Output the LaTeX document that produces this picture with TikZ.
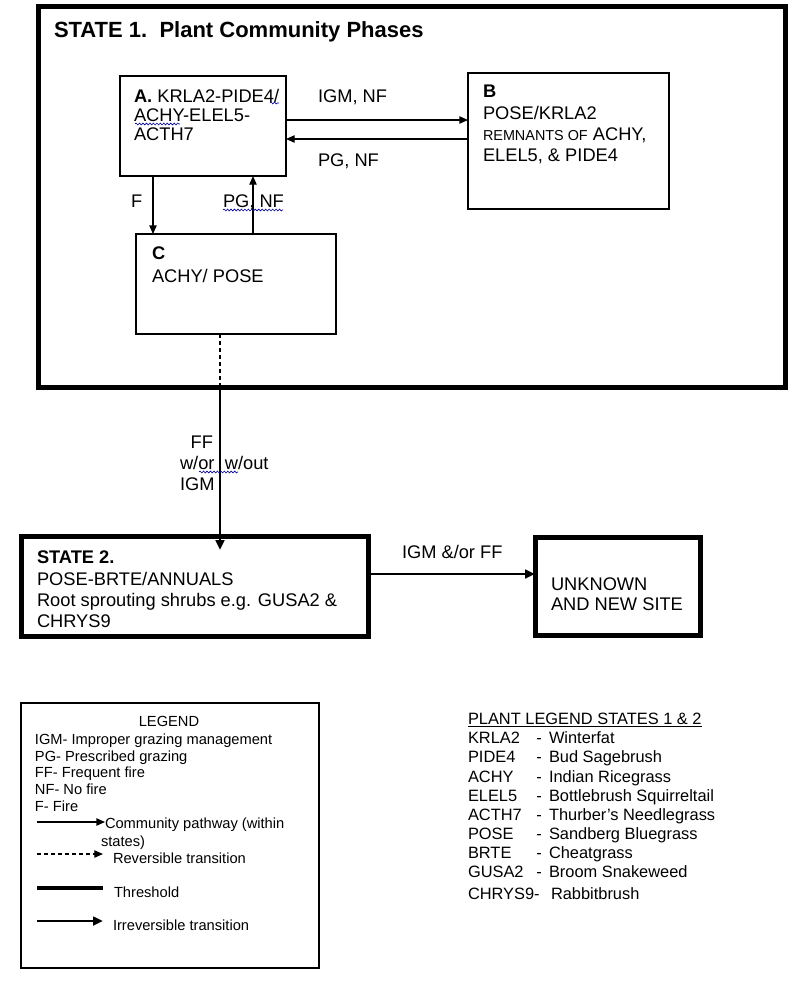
\documentclass[tikz,border=0pt]{standalone}
\usepackage{fontspec}
\setmainfont{Liberation Sans}
\usetikzlibrary{arrows.meta,decorations.pathmorphing}
\begin{document}
\begin{tikzpicture}[x=0.75pt,y=-0.75pt,
  box/.style={draw, line width=1pt, rectangle, inner sep=0pt, outer sep=0pt},
  statebox/.style={draw, line width=3.75pt, rectangle, inner sep=0pt, outer sep=0pt},
  legbox/.style={draw, line width=0.9pt, rectangle, inner sep=0pt, outer sep=0pt},
  txt/.style={inner sep=0pt, outer sep=0pt, anchor=base west, font=\fontsize{13.7}{16}\selectfont},
  legtxt/.style={inner sep=0pt, outer sep=0pt, anchor=base west, font=\fontsize{11}{13}\selectfont},
  pltxt/.style={inner sep=0pt, outer sep=0pt, anchor=base west, font=\fontsize{12.3}{14}\selectfont},
  arr/.style={line width=1pt, -{Triangle[length=6.5pt,width=5.5pt]}},
  dasharr/.style={line width=0.9pt, dash pattern=on 3pt off 2.25pt},
  thickarr/.style={line width=2.2pt, -{Triangle[length=7.5pt,width=6.5pt]}},
  thresh/.style={line width=3pt},
  squiggle/.style={draw=blue!60!black, line width=0.45pt, decorate, decoration={snake, amplitude=0.7pt, segment length=2.6pt}}
]
\useasboundingbox (0,0) rectangle (800,983);

% ---------------- State 1 ----------------
\node[statebox, minimum width=560.25pt, minimum height=285.75pt] (S1) at (411.5,196.5) {};
\node[txt, font=\bfseries\fontsize{16.5}{20}\selectfont] (title) at (54,37) {STATE 1.\ \ Plant Community Phases};

\node[box, minimum width=124.5pt, minimum height=75pt] (A) at (203,126) {};
\node[box, minimum width=150.75pt, minimum height=102pt] (B) at (568.5,141) {};
\node[box, minimum width=150pt, minimum height=75pt] (C) at (236,284) {};

\node[txt] (a1) at (134,102) {\textbf{A.} KRLA2-PIDE4/};
\node[txt] (a2) at (134,121) {ACHY-ELEL5-};
\node[txt] (a3) at (134,140) {ACTH7};

\node[txt] (b1) at (483,97) {\textbf{B}};
\node[txt] (b2) at (483,119) {POSE/KRLA2};
\node[txt] (b3) at (483,140) {{\fontsize{10.8}{12}\selectfont REMNANTS OF} ACHY,};
\node[txt] (b4) at (483,161) {ELEL5, \& PIDE4};

\node[txt] (c1) at (152,259) {\textbf{C}};
\node[txt] (c2) at (152,282) {ACHY/ POSE};

% pathway labels
\node[txt] (labAB) at (318,102) {IGM, NF};
\node[txt] (labBA) at (318,166) {PG, NF};
\node[txt] (labAC) at (131,207) {F};
\node[txt] (labCA) at (223,207) {PG, NF};

% pathway arrows
\coordinate (yab) at (0,120);
\coordinate (yba) at (0,139);
\coordinate (xac) at (153,0);
\coordinate (xca) at (253,0);
\draw[arr] (A.east |- yab) -- (B.west |- yab);
\draw[arr] (B.west |- yba) -- (A.east |- yba);
\draw[arr] (A.south -| xac) -- (C.north -| xac);
\draw[arr] (C.north -| xca) -- (A.south -| xca);

% transition from C to State 2
\coordinate (xd) at (220,0);
\coordinate (s2in) at (220,550);
\draw[dasharr] (C.south -| xd) -- (S1.south -| xd);
\draw[thickarr] (S1.south -| xd) -- (s2in);

\node[txt, anchor=base east] (ff1) at (213,448) {FF};
\node[txt] (ff2) at (180,469) {w/or\hspace{7.8pt}w/out};
\node[txt] (ff3) at (180,490) {IGM};

% ---------------- State 2 ----------------
\node[statebox, minimum width=259.9pt, minimum height=75pt] (S2) at (195.25,586.5) {};
\node[txt] (s21) at (37,563) {\textbf{STATE 2.}};
\node[txt] (s22) at (37,585) {POSE-BRTE/ANNUALS};
\node[txt] (s23) at (37,606) {Root sprouting shrubs e.g. GUSA2 \&};
\node[txt] (s24) at (37,627) {CHRYS9};

\node[statebox, minimum width=124.1pt, minimum height=73.5pt] (UN) at (617.75,586.5) {};
\node[txt] (un1) at (551,590) {UNKNOWN};
\node[txt] (un2) at (551,610) {AND NEW SITE};

\coordinate (ysu) at (0,574);
\draw[thickarr] (S2.east |- ysu) -- (UN.west |- ysu);
\node[txt] (labSU) at (402,558) {IGM \&/or FF};

% spell-check squiggles
\draw[squiggle] (270,103) -- (279,103);
\draw[squiggle] (135,124) -- (180,124);
\draw[squiggle] (223,210) -- (283,210);
\draw[squiggle] (199,472) -- (238,472);

% ---------------- Legend ----------------
\node[legbox, minimum width=223.5pt, minimum height=198.75pt] (LEG) at (170,835.5) {};
\node[legtxt, anchor=base] (lg0) at (169,726) {LEGEND};
\node[legtxt] (lg1) at (35,744) {IGM- Improper grazing management};
\node[legtxt] (lg2) at (35,761) {PG- Prescribed grazing};
\node[legtxt] (lg3) at (35,777) {FF- Frequent fire};
\node[legtxt] (lg4) at (35,794) {NF- No fire};
\node[legtxt] (lg5) at (35,811) {F- Fire};
\node[legtxt] (lg6) at (105,828) {Community pathway (within};
\node[legtxt] (lg6b) at (101,846) {states)};
\node[legtxt] (lg7) at (113,863) {Reversible transition};
\node[legtxt] (lg8) at (114,897) {Threshold};
\node[legtxt] (lg9) at (113,930) {Irreversible transition};

\coordinate (l1a) at (37,822);  \coordinate (l1b) at (105,822);
\coordinate (l2a) at (37,854);  \coordinate (l2b) at (103,854);
\coordinate (l3a) at (37,888);  \coordinate (l3b) at (103,888);
\coordinate (l4a) at (37,921);  \coordinate (l4b) at (103,921);
\draw[arr] (l1a) -- (l1b);
\draw[dasharr, -{Triangle[length=6.5pt,width=5.5pt]}] (l2a) -- (l2b);
\draw[thresh] (l3a) -- (l3b);
\draw[thickarr] (l4a) -- (l4b);

% ---------------- Plant legend ----------------
\node[pltxt] (pl0) at (468,724) {\underline{PLANT LEGEND STATES 1 \& 2}};
\foreach \code/\name/\yy [count=\i] in {KRLA2/Winterfat/743, PIDE4/Bud Sagebrush/762, ACHY/Indian Ricegrass/782, ELEL5/Bottlebrush Squirreltail/801, ACTH7/Thurber’s Needlegrass/820, POSE/Sandberg Bluegrass/839, BRTE/Cheatgrass/858, GUSA2/Broom Snakeweed/877}{
  \node[pltxt] (pc\i) at (468,\yy) {\code};
  \node[pltxt, anchor=base] (pd\i) at (539,\yy) {-};
  \node[pltxt] (pn\i) at (549,\yy) {\name};
}
\node[pltxt] (pc9) at (468,899) {CHRYS9-};
\node[pltxt] (pn9) at (551,899) {Rabbitbrush};

\end{tikzpicture}
\end{document}
